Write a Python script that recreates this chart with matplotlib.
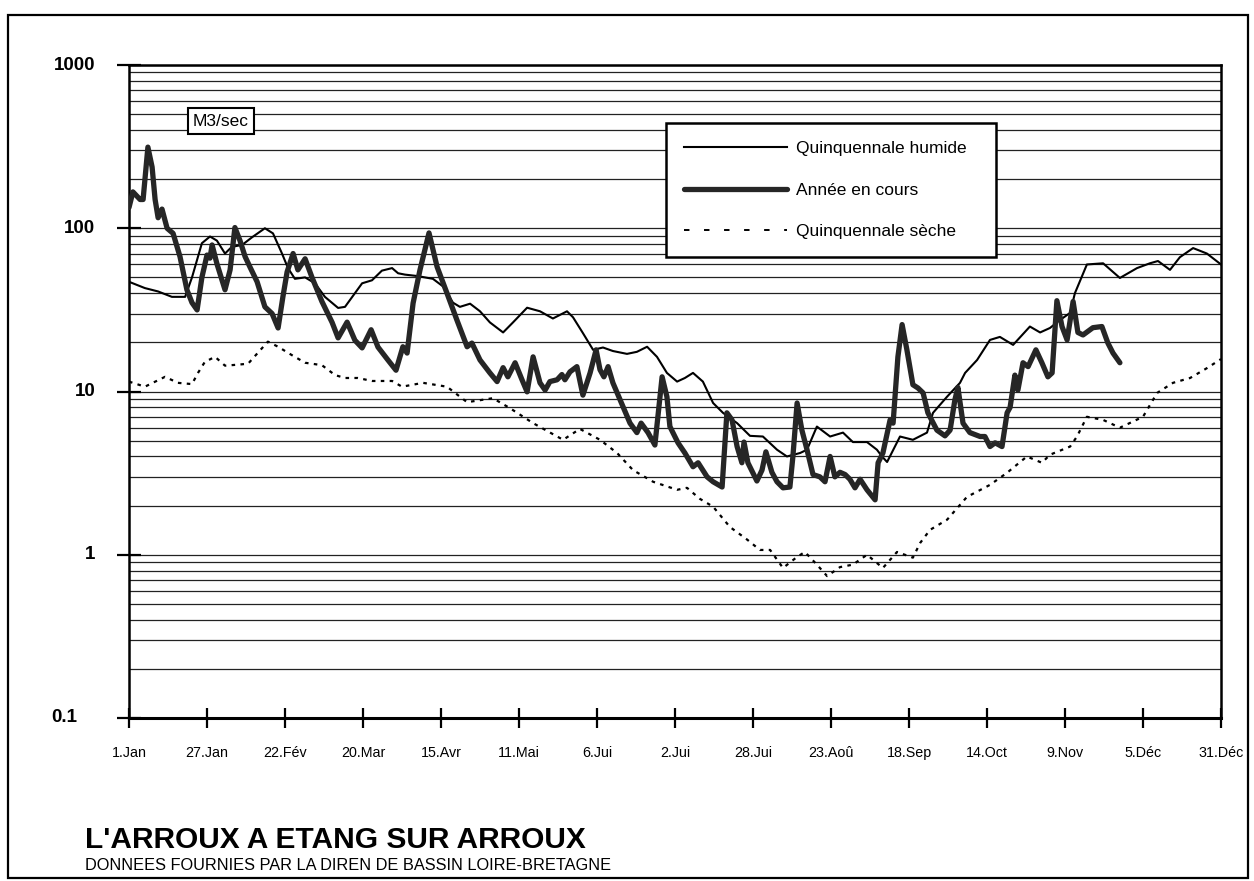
import matplotlib
matplotlib.use("Agg")
import matplotlib.pyplot as plt
from matplotlib.lines import Line2D
from matplotlib.patches import Rectangle
from matplotlib.ticker import LogLocator, NullFormatter
from matplotlib.transforms import blended_transform_factory

plt.rcParams['font.family'] = ['Liberation Sans', 'DejaVu Sans']

# Day-of-year tick positions and labels (every 26 days)
tick_days = [0, 26, 52, 78, 104, 130, 156, 182, 208, 234, 260, 286, 312, 338, 364]
tick_labels = ["1.Jan", "27.Jan", "22.Fév", "20.Mar", "15.Avr", "11.Mai", "6.Jui",
               "2.Jui", "28.Jui", "23.Aoû", "18.Sep", "14.Oct", "9.Nov", "5.Déc", "31.Déc"]

# Quinquennale humide (m3/s)
days_humide = [0, 5.3, 9.7, 14.3, 18.7, 21, 24.3, 27, 29.3, 32, 34.3, 37.7, 41, 45.3, 48,
               51, 53, 55.3, 58.7, 62, 65.3, 69.7, 72, 75.3, 77.7, 81, 84.3, 87.7, 89.7, 92,
               96, 101.3, 104.7, 108, 110.3, 113.7, 117, 120.3, 124.7, 128, 132.7, 137,
               141.3, 146, 148, 151.3, 154.7, 158, 161.3, 166, 169.3, 172.7, 176, 179.3,
               182.7, 185.3, 188, 191.3, 194.7, 198, 202.7, 207, 211.3, 216, 219.3, 223.7,
               226, 229.3, 233.7, 238, 241.3, 246, 249.3, 251, 252.7, 257, 261.3, 266, 268,
               272.7, 277, 278.7, 282.7, 287, 290.3, 294.7, 300.3, 303.7, 307, 310.3, 313.7,
               315.3, 319.3, 324.7, 330.3, 336, 340.3, 343, 347, 350.3, 354.7, 359.3, 364]
q_humide = [47, 43, 41, 38, 38, 50, 81, 89, 84, 70, 77, 79, 88, 100, 93,
            70, 57, 49, 50, 46, 38, 32.5, 33, 40, 46, 48, 55, 57, 53, 52,
            51, 49, 44, 35, 33, 34.5, 31, 26.5, 23, 26.5, 32.6, 31,
            28, 31, 28.5, 22.8, 18, 18.6, 17.7, 17, 17.5, 18.8, 16.3, 13,
            11.5, 12.1, 13, 11.5, 8.5, 7.4, 6.4, 5.35, 5.3, 4.4, 4.0, 4.2,
            4.4, 6.1, 5.3, 5.6, 4.9, 4.9, 4.4, 4.0, 3.7, 5.3, 5.06, 5.6, 7.4,
            9.3, 11.3, 13, 15.6, 20.7, 21.6, 19.3, 25, 23, 24.5, 27.4, 30.3,
            40, 60, 61, 49.6, 57, 61, 63, 55.6, 66.5, 75.6, 70, 60]

# Année en cours (m3/s)
days_annee = [0, 1.3, 3.7, 4.7, 6.3, 7.7, 8.7, 9.7, 11, 12.7, 14.7, 17, 19.3, 21, 22.7,
              24.3, 26, 27, 27.7, 29.3, 32, 33.7, 35.3, 37, 38.7, 40.3, 42.7, 45.3, 47.7,
              49.7, 51.3, 52.7, 54.7, 56.3, 58.7, 61, 64.3, 67.7, 69.7, 72.7, 75.3, 77.7,
              80.7, 83, 86.3, 89, 91.3, 92.7, 94.7, 97, 100, 102.7, 106, 109.3, 112.7,
              114.3, 117, 120.3, 122.7, 124.7, 126.3, 128.7, 131, 132.7, 134.7, 137,
              138.7, 140.3, 142.7, 144.3, 145.3, 147, 149.3, 151.3, 153.7, 155.7, 157,
              158.3, 159.7, 161.3, 163.7, 167, 169.3, 170.7, 173, 175.3, 177.7, 179.3,
              180.3, 183, 185.3, 188, 189.7, 192.7, 194.7, 197.7, 199.3, 201, 202.7,
              204.3, 205, 206.3, 209.3, 211, 212.3, 214.3, 216, 218, 220.3, 221.3, 222.7,
              224.3, 226, 228, 230.3, 232, 233.7, 235.3, 237, 238.7, 240.3, 242, 243.7,
              246, 248.7, 249.7, 251.3, 253.7, 254.7, 256.3, 257.7, 259.3, 261.3, 263,
              264.7, 266.3, 269.3, 272, 273.7, 275.3, 276.3, 278, 280.3, 283.7, 285.3,
              287, 288.7, 291, 292.7, 293.7, 295.3, 296.3, 298, 299.7, 302.3, 304.3,
              306.3, 307.7, 309.3, 311, 312.7, 314.7, 316.3, 318, 321.3, 324.3, 326.3,
              328, 330.3]
q_annee = [134, 167, 150, 150, 314, 237, 150, 116, 131, 100, 93, 67, 42, 35, 31.6,
           50, 68.5, 65.6, 79, 60.7, 42, 55.6, 101, 84, 67, 58, 47, 33, 30,
           24.5, 38, 54, 70, 55.6, 65, 50, 35.6, 26.5, 21.3, 26.6, 20.6, 18.5,
           23.9, 18.7, 15.6, 13.5, 18.8, 17.2, 34.8, 55.6, 93.6, 58, 40, 27.4, 18.8,
           19.8, 15.6, 13, 11.5, 14, 12.3, 15, 11.8, 9.95, 16.3, 11.3,
           10.2, 11.5, 11.8, 12.7, 11.8, 13.2, 14.2, 9.5, 13, 18, 13.6,
           12.3, 14.2, 11.3, 8.9, 6.4, 5.6, 6.4, 5.6, 4.7, 12.3, 9.3,
           6.1, 4.85, 4.2, 3.46, 3.66, 3.0, 2.8, 2.6, 7.4, 6.7, 4.6,
           3.66, 4.9, 3.66, 2.83, 3.3, 4.27, 3.2, 2.8, 2.57, 2.6, 4.0, 8.5,
           5.8, 4.4, 3.1, 3.0, 2.8, 4.0, 3.0, 3.2, 3.1, 2.9, 2.57, 2.9,
           2.5, 2.17, 3.66, 4.2, 6.7, 6.4, 16.3, 25.7, 18, 11, 10.5,
           9.8, 7.4, 5.8, 5.35, 5.8, 8.9, 10.6, 6.4, 5.6, 5.3, 5.3,
           4.6, 4.85, 4.6, 7.4, 8.0, 12.6, 10.2, 15, 14.2, 18, 15,
           12.3, 13, 36, 25, 20.7, 35.6, 23, 22.2, 24.6, 25, 19.8,
           17.2, 15]

# Quinquennale sèche (m3/s)
days_seche = [0, 5.3, 12, 16.3, 21, 23, 25.3, 28.7, 32, 36.3, 39.7, 43, 46.3, 49.7, 54.3,
              58.7, 64.3, 68.7, 72, 76.3, 81, 87.7, 91, 98, 106, 112.7, 121.3, 127, 134.7,
              144.7, 150.3, 157, 162.7, 168, 174.7, 182.7, 186, 190.3, 194.7, 200.3, 206,
              210.3, 213.7, 218, 222.7, 225.3, 229.3, 232.7, 237, 241.3, 246, 251.3, 256,
              261.3, 263.7, 267, 272.7, 277, 279.3, 287, 292.7, 299.3, 304.3, 307, 313.7,
              316, 319.3, 324.7, 330.3, 338, 342.7, 348, 353.7, 359.3, 364]
q_seche = [11.5, 10.7, 12.3, 11.3, 11.1, 13, 15.2, 16.3, 14.4, 14.6, 14.8, 17.3, 20.2, 18.8, 16.7,
           15, 14.5, 12.6, 12.1, 12.1, 11.6, 11.6, 10.7, 11.3, 10.7, 8.6, 9.1, 7.9, 6.4,
           5.06, 5.9, 5.06, 4.2, 3.3, 2.8, 2.5, 2.57, 2.2, 1.97, 1.48, 1.24,
           1.07, 1.07, 0.83, 0.97, 1.04, 0.87, 0.74, 0.84, 0.87, 1.0, 0.83, 1.04,
           0.96, 1.18, 1.42, 1.64, 2.02, 2.26, 2.68, 3.18, 4.0, 3.66, 4.1, 4.6,
           5.3, 7.0, 6.7, 6.0, 7.0, 9.8, 11.3, 12.1, 13.9, 15.8]

decade_values = [0.1, 1, 10, 100, 1000]
decade_labels = ["0.1", "1", "10", "100", "1000"]

W, H = 1254, 881
fig = plt.figure(figsize=(W / 100, H / 100), dpi=100)
fig.patch.set_facecolor("white")

# Outer frame around the whole sheet
fig.patches.append(Rectangle((8 / W, 1 - 878 / H), (1248 - 8) / W, (878 - 15) / H,
                             transform=fig.transFigure, fill=False,
                             edgecolor="black", linewidth=1.6))

ax = fig.add_axes([129 / W, 1 - 718 / H, (1221 - 129) / W, (718 - 65) / H])
ax.set_yscale("log")
ax.set_ylim(0.1, 1000)
ax.set_xlim(0, 364)

# Horizontal grid on every 1..9 step of each decade
ax.yaxis.set_major_locator(LogLocator(base=10, numticks=10))
ax.yaxis.set_minor_locator(LogLocator(base=10, subs=range(2, 10), numticks=20))
ax.yaxis.set_minor_formatter(NullFormatter())
ax.grid(True, which="both", axis="y", color="#222222", linewidth=0.9)
ax.grid(False, axis="x")
ax.set_axisbelow(True)

ax.plot(days_humide, q_humide, color="black", linewidth=1.5,
        solid_joinstyle="round", zorder=3)
ax.plot(days_seche, q_seche, color="black", linewidth=1.6,
        linestyle=(0, (1.6, 2.4)), zorder=3)
ax.plot(days_annee, q_annee, color="#262626", linewidth=3.8,
        solid_joinstyle="round", solid_capstyle="round", zorder=4)

for side in ["left", "top", "right"]:
    ax.spines[side].set_linewidth(1.8)
ax.spines["bottom"].set_linewidth(2.2)

ax.set_xticks(tick_days)
ax.set_xticklabels(tick_labels, fontsize=10.3)
ax.tick_params(axis="x", direction="inout", length=15, width=1.6, pad=12.5)
ax.tick_params(axis="y", which="major", direction="inout", length=17, width=1.6,
               labelleft=False)
ax.tick_params(axis="y", which="minor", length=0)

# Decade labels at the left of the axis
ytrans = blended_transform_factory(ax.transAxes, ax.transData)
for v, lab in zip(decade_values, decade_labels):
    xpos = -0.047 if v == 0.1 else -0.031
    ax.text(xpos, v, lab, transform=ytrans, ha="right", va="center",
            fontsize=13.5, fontweight="bold")

# Unit box
ax.text(0.0843, 0.914, "M3/sec", transform=ax.transAxes, ha="center", va="center",
        fontsize=12.5, zorder=6,
        bbox=dict(boxstyle="square,pad=0.3", facecolor="white",
                  edgecolor="black", linewidth=1.5))

# Legend
handles = [
    Line2D([], [], color="black", linewidth=1.5),
    Line2D([], [], color="#262626", linewidth=3.8, solid_capstyle="round"),
    Line2D([], [], color="black", linewidth=1.4, linestyle=(0, (2.8, 7.5))),
]
labels = ["Quinquennale humide", "Année en cours", "Quinquennale sèche"]
leg = ax.legend(handles, labels, loc="upper left",
                bbox_to_anchor=(0.492, 0.706, 0.302, 0.205), mode="expand",
                fontsize=12.5, frameon=True, fancybox=False, framealpha=1,
                edgecolor="black", borderpad=1.05, labelspacing=1.5,
                handlelength=5.9, handletextpad=0.5, borderaxespad=0)
leg.get_frame().set_linewidth(1.8)
leg.set_zorder(7)

# Title block
fig.text(85 / W, 1 - 848 / H, "L'ARROUX A ETANG SUR ARROUX", ha="left",
         va="baseline", fontsize=21.5, fontweight="bold")
fig.text(85 / W, 1 - 870 / H,
         "DONNEES FOURNIES PAR LA DIREN DE BASSIN LOIRE-BRETAGNE",
         ha="left", va="baseline", fontsize=11.8)

fig.savefig("out.png", dpi=100)
